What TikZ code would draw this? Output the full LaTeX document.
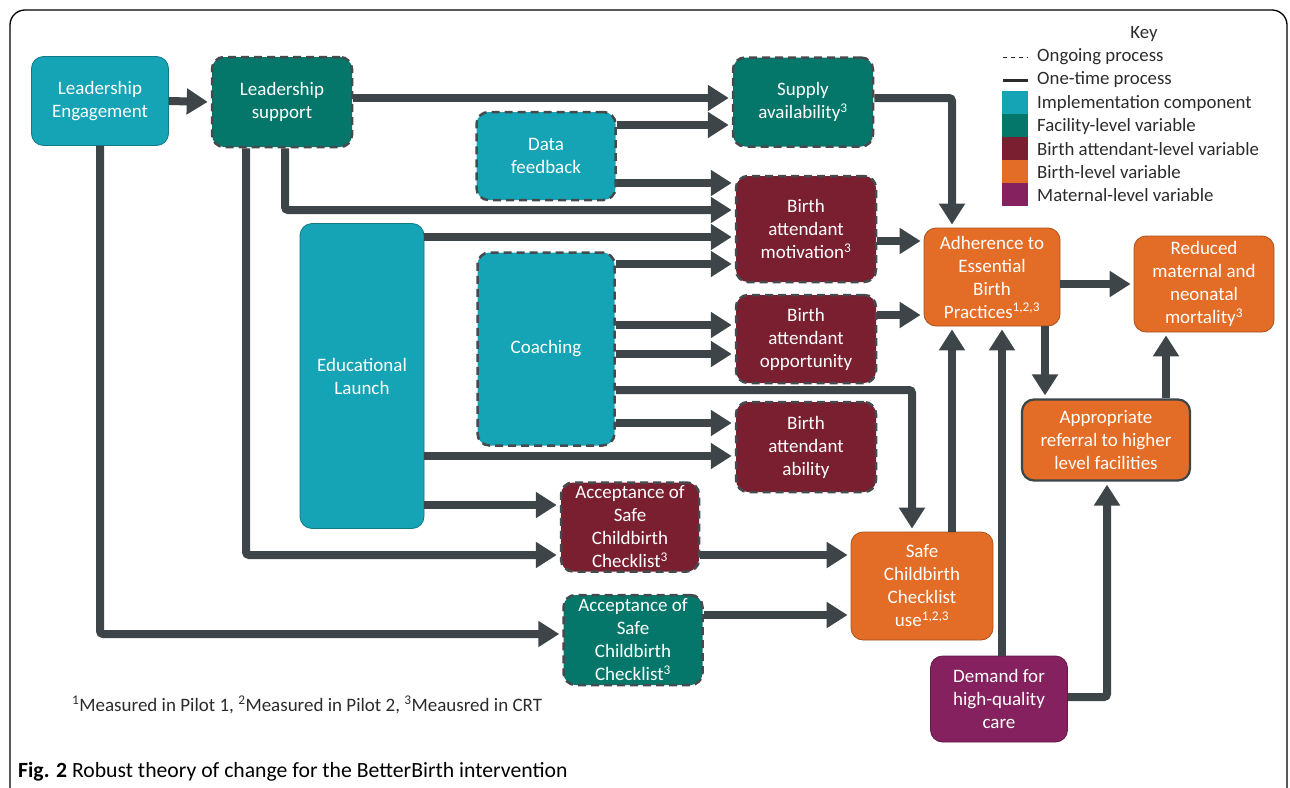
\documentclass[tikz,border=0pt]{standalone}
\usepackage{fontspec}
\setmainfont{Carlito}
\usetikzlibrary{arrows.meta}
\definecolor{cteal}{HTML}{15A3B6}
\definecolor{cgreen}{HTML}{04776A}
\definecolor{cmaroon}{HTML}{7A1F30}
\definecolor{corange}{HTML}{E36C26}
\definecolor{cpurple}{HTML}{85215E}
\definecolor{arrgray}{HTML}{3E4548}
\definecolor{dashgray}{HTML}{444A4D}
\definecolor{keytext}{HTML}{2B2B2B}
\begin{document}
\begin{tikzpicture}[x=1pt,y=-1pt,
  box/.style={rounded corners=12pt, text=white, align=center, inner sep=2pt,
    font={\fontsize{19}{23}\selectfont}},
  solidb/.style={box, draw=#1!75!black, line width=0.8pt, fill=#1},
  dashb/.style={box, draw=dashgray, line width=2.5pt, dash pattern=on 8pt off 5pt, fill=#1},
  arr/.style={draw=arrgray, line width=8pt, -{Triangle[length=21pt,width=25pt]},
    shorten >=3pt, rounded corners=3pt},
  keylbl/.style={anchor=west, text=keytext, inner sep=0pt,
    font={\fontsize{18.8}{20}\selectfont}},
]
\useasboundingbox (0,0) rectangle (1290,787);
% outer frame
\draw[line width=1.3pt, rounded corners=15pt] (10,800) -- (10,10) -- (1287,10) -- (1287,800);

% nodes
\node[solidb=cteal, minimum width=137pt, minimum height=89pt] (LE) at (100,101) {Leadership\\Engagement};
\node[dashb=cgreen, minimum width=140pt, minimum height=90pt] (LS) at (282,102) {Leadership\\support};
\node[dashb=cgreen, minimum width=140pt, minimum height=89pt] (SA) at (803,102) {Supply\\availability\textsuperscript{3}};
\node[dashb=cteal, minimum width=139pt, minimum height=88pt] (DF) at (546,156) {Data\\feedback};
\node[dashb=cmaroon, minimum width=140pt, minimum height=106pt] (BAM) at (806,229) {Birth\\attendant\\motivation\textsuperscript{3}};
\node[solidb=cteal, minimum width=124pt, minimum height=305pt] (EL) at (362,376) {Educational\\Launch};
\node[dashb=cteal, minimum width=137pt, minimum height=193pt] (CO) at (546,349) {Coaching};
\node[dashb=cmaroon, minimum width=140pt, minimum height=88pt] (BAO) at (806,339) {Birth\\attendant\\opportunity};
\node[dashb=cmaroon, minimum width=140pt, minimum height=90pt] (BAA) at (806,447) {Birth\\attendant\\ability};
\node[dashb=cmaroon, minimum width=138pt, minimum height=89pt] (ACM) at (630,527) {Acceptance of\\Safe\\Childbirth\\Checklist\textsuperscript{3}};
\node[dashb=cgreen, minimum width=139pt, minimum height=90pt] (ACG) at (633,640) {Acceptance of\\Safe\\Childbirth\\Checklist\textsuperscript{3}};
\node[solidb=corange, minimum width=136pt, minimum height=98pt] (ADH) at (992,277) {Adherence to\\Essential\\Birth\\Practices\textsuperscript{1,2,3}};
\node[solidb=corange, minimum width=140pt, minimum height=96pt] (RED) at (1204,284) {Reduced\\maternal and\\neonatal\\mortality\textsuperscript{3}};
\node[box, fill=corange, draw=arrgray, line width=2.2pt, minimum width=168pt, minimum height=81pt] (REF) at (1106,440) {Appropriate\\referral to higher\\level facilities};
\node[solidb=corange, minimum width=142pt, minimum height=108pt] (SCU) at (922,586) {Safe\\Childbirth\\Checklist\\use\textsuperscript{1,2,3}};
\node[solidb=cpurple, minimum width=137pt, minimum height=86pt] (DEM) at (999,699) {Demand for\\high-quality\\care};

% connectors
\draw[arr] (LE.east) -- (LS.west);
\draw[arr] (LS.east |- 0,98) -- (SA.west |- 0,98);
\draw[arr] (DF.east |- 0,125) -- (SA.west |- 0,125);
\draw[arr] (DF.east |- 0,183) -- (BAM.west |- 0,183);
\draw[arr] (LS.south -| 285,0) |- (BAM.west |- 0,210);
\draw[arr] (EL.east |- 0,237) -- (BAM.west |- 0,237);
\draw[arr] (CO.east |- 0,264) -- (BAM.west |- 0,264);
\draw[arr] (BAM.east |- 0,241) -- (ADH.west |- 0,241);
\draw[arr] (CO.east |- 0,325) -- (BAO.west |- 0,325);
\draw[arr] (CO.east |- 0,354) -- (BAO.west |- 0,354);
\draw[arr] (BAO.east |- 0,315) -- (ADH.west |- 0,315);
\draw[arr] (CO.east |- 0,390) -| (SCU.north -| 912,0);
\draw[arr] (CO.east |- 0,423) -- (BAA.west |- 0,423);
\draw[arr] (EL.east |- 0,456) -- (BAA.west |- 0,456);
\draw[arr] (EL.east |- 0,505) -- (ACM.west |- 0,505);
\draw[arr] (LS.south -| 246,0) |- (ACM.west |- 0,555);
\draw[arr] (ACM.east |- 0,555) -- (SCU.west |- 0,555);
\draw[arr] (ACG.east |- 0,615) -- (SCU.west |- 0,615);
\draw[arr] (LE.south -| 100,0) |- (ACG.west |- 0,634);
\draw[arr] (SA.east |- 0,98) -| (ADH.north -| 952,0);
\draw[arr] (ADH.east |- 0,284) -- (RED.west |- 0,284);
\draw[arr] (ADH.south -| 1045,0) -- (REF.north -| 1045,0);
\draw[arr] (REF.north -| 1166,0) -- (RED.south -| 1166,0);
\draw[arr] (SCU.north -| 952,0) -- (ADH.south -| 952,0);
\draw[arr] (DEM.north -| 1002,0) -- (ADH.south -| 1002,0);
\draw[arr] (DEM.east |- 0,697) -| (REF.south -| 1107,0);

% key
\node[anchor=center, text=keytext, inner sep=0pt, font={\fontsize{18.8}{20}\selectfont}] (kk) at (1144,34) {Key};
\draw[keytext, line width=1pt, dash pattern=on 4pt off 4pt] (1003,57) -- (1028,57);
\draw[keytext, line width=3pt] (1003,80) -- (1028,80);
\fill[cteal] (1002,91) rectangle (1028,114);
\fill[cgreen] (1002,114) rectangle (1028,137);
\fill[cmaroon] (1002,137) rectangle (1028,160);
\fill[corange] (1002,160) rectangle (1028,183);
\fill[cpurple] (1002,183) rectangle (1028,206);
\node[keylbl] (k1) at (1037,57) {Ongoing process};
\node[keylbl] (k2) at (1037,80) {One-time process};
\node[keylbl] (k3) at (1037,103) {Implementation component};
\node[keylbl] (k4) at (1037,126) {Facility-level variable};
\node[keylbl] (k5) at (1037,149) {Birth attendant-level variable};
\node[keylbl] (k6) at (1037,172) {Birth-level variable};
\node[keylbl] (k7) at (1037,195) {Maternal-level variable};

% footnote and caption
\node[anchor=base west, text=keytext, inner sep=0pt, font={\fontsize{19}{22}\selectfont}] (fn) at (72,711)
  {\textsuperscript{1}Measured in Pilot 1, \textsuperscript{2}Measured in Pilot 2, \textsuperscript{3}Meausred in CRT};
\node[anchor=base west, inner sep=0pt, font={\fontsize{21.7}{25}\selectfont}] (cap) at (18,777)
  {\textbf{Fig. 2} Robust theory of change for the BetterBirth intervention};
\end{tikzpicture}
\end{document}
